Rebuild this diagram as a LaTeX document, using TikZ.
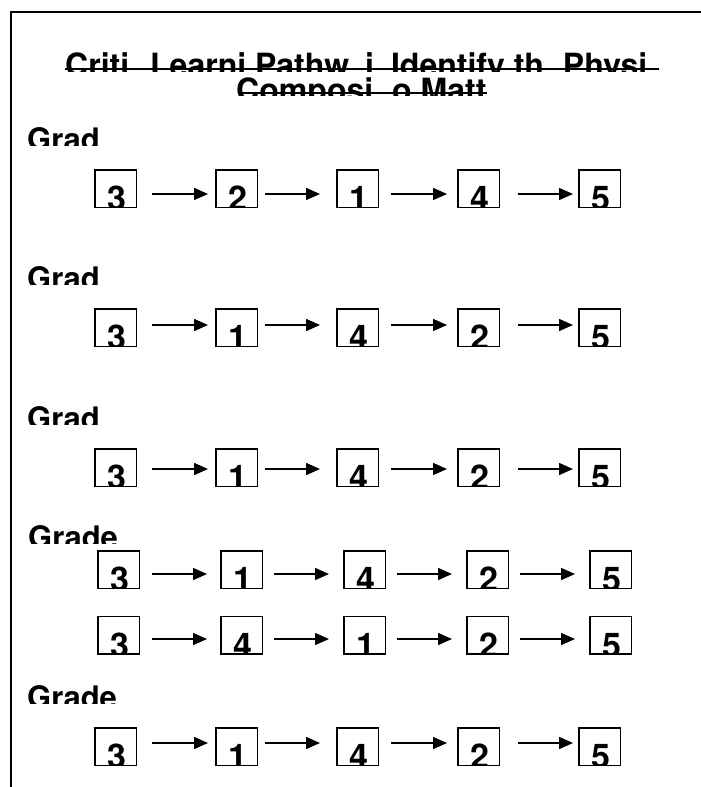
\documentclass[tikz,border=0pt]{standalone}
\usepackage{fontspec}
\setmainfont{TeX Gyre Heros}
\usepackage{tikz}
\usetikzlibrary{arrows.meta,positioning}
\tikzset{
  cell/.style={rectangle, draw, line width=1.5pt, minimum width=41.5pt,
               minimum height=37.5pt, inner sep=0pt,
               path picture={\node[draw=none, anchor=base, inner sep=0pt,
                 font=\bfseries\fontsize{34}{34}\selectfont]
                 at ([xshift=1.5pt,yshift=-3.5pt]path picture bounding box.south) {#1};}},
  fl/.style={-{Triangle[length=14pt,width=12pt]}, line width=1.5pt},
  grade/.style={anchor=base west, inner sep=0pt, font=\bfseries\fontsize{31}{31}\selectfont},
  ttl/.style={anchor=base west, inner sep=0pt, text depth=0pt,
              font=\bfseries\fontsize{32}{32}\selectfont},
  uline/.style={line width=2pt},
}
\begin{document}
\begin{tikzpicture}[x=1pt, y=1pt]
\useasboundingbox (0,0) rectangle (701,-787);
\draw[line width=1.5pt] (11,-787) -- (11,-12) -- (701,-12);
% title
\begin{scope}
\clip (0,-30) rectangle (701,-71);
\node[ttl] (ttl1) at (65,-76) {Criti\hspace{21pt}Learni Pathw\hspace{16pt}i\hspace{17pt}Identify th\hspace{19pt}Physi};
\end{scope}
\begin{scope}
\clip (0,-72) rectangle (701,-95.5);
\node[ttl] (ttl2) at (236,-101) {Composi\hspace{19pt}o Matt};
\end{scope}
\draw[uline] (65,-69) -- (659,-69);
\draw[uline] (238,-92.5) -- (487,-92.5);
% grade labels
\begin{scope}
\clip (0,-110) rectangle (701,-145);
\node[grade] (lab1) at (27,-150) {Grad};
\end{scope}
\begin{scope}
\clip (0,-250) rectangle (701,-284);
\node[grade] (lab2) at (27,-289) {Grad};
\end{scope}
\begin{scope}
\clip (0,-390) rectangle (701,-424);
\node[grade] (lab3) at (27,-429) {Grad};
\end{scope}
\begin{scope}
\clip (0,-510) rectangle (701,-543);
\node[grade] (lab4) at (28,-548) {Grade};
\end{scope}
\begin{scope}
\clip (0,-670) rectangle (701,-703);
\node[grade] (lab5) at (27,-708) {Grade};
\end{scope}
% row 1
\node[cell=3] (g1a) at (115.5,-188.5) {};
\node[cell=2, right=78pt of g1a] (g1b) {};
\node[cell=1, right=78pt of g1b] (g1c) {};
\node[cell=4, right=78pt of g1c] (g1d) {};
\node[cell=5, right=78pt of g1d] (g1e) {};
\draw[fl] ([shift={(15,-5.5)}]g1a.east) -- ([shift={(-7,-5.5)}]g1b.west);
\draw[fl] ([shift={(7,-5.5)}]g1b.east) -- ([shift={(-16,-5.5)}]g1c.west);
\draw[fl] ([shift={(12,-5.5)}]g1c.east) -- ([shift={(-10,-5.5)}]g1d.west);
\draw[fl] ([shift={(18,-5.5)}]g1d.east) -- ([shift={(-5,-5.5)}]g1e.west);
% row 2
\node[cell=3] (g2a) at (115.5,-327.5) {};
\node[cell=1, right=78pt of g2a] (g2b) {};
\node[cell=4, right=78pt of g2b] (g2c) {};
\node[cell=2, right=78pt of g2c] (g2d) {};
\node[cell=5, right=78pt of g2d] (g2e) {};
\draw[fl] ([shift={(15,2.5)}]g2a.east) -- ([shift={(-7,2.5)}]g2b.west);
\draw[fl] ([shift={(7,2.5)}]g2b.east) -- ([shift={(-16,2.5)}]g2c.west);
\draw[fl] ([shift={(12,2.5)}]g2c.east) -- ([shift={(-10,2.5)}]g2d.west);
\draw[fl] ([shift={(18,2.5)}]g2d.east) -- ([shift={(-5,2.5)}]g2e.west);
% row 3
\node[cell=3] (g3a) at (115.5,-467.5) {};
\node[cell=1, right=78pt of g3a] (g3b) {};
\node[cell=4, right=78pt of g3b] (g3c) {};
\node[cell=2, right=78pt of g3c] (g3d) {};
\node[cell=5, right=78pt of g3d] (g3e) {};
\draw[fl] ([shift={(15,-1.5)}]g3a.east) -- ([shift={(-7,-1.5)}]g3b.west);
\draw[fl] ([shift={(7,-1.5)}]g3b.east) -- ([shift={(-16,-1.5)}]g3c.west);
\draw[fl] ([shift={(12,-1.5)}]g3c.east) -- ([shift={(-10,-1.5)}]g3d.west);
\draw[fl] ([shift={(18,-1.5)}]g3d.east) -- ([shift={(-5,-1.5)}]g3e.west);
% row 4, two pathways
\node[cell=3] (g4a) at (118.5,-569.5) {};
\node[cell=1, right=80pt of g4a] (g4b) {};
\node[cell=4, right=80pt of g4b] (g4c) {};
\node[cell=2, right=80pt of g4c] (g4d) {};
\node[cell=5, right=80pt of g4d] (g4e) {};
\draw[fl] ([shift={(12,-4.5)}]g4a.east) -- ([shift={(-13,-4.5)}]g4b.west);
\draw[fl] ([shift={(11,-4.5)}]g4b.east) -- ([shift={(-14,-4.5)}]g4c.west);
\draw[fl] ([shift={(11,-4.5)}]g4c.east) -- ([shift={(-14,-4.5)}]g4d.west);
\draw[fl] ([shift={(11,-4.5)}]g4d.east) -- ([shift={(-14,-4.5)}]g4e.west);
\node[cell=3] (h4a) at (118.5,-635) {};
\node[cell=4, right=80pt of h4a] (h4b) {};
\node[cell=1, right=80pt of h4b] (h4c) {};
\node[cell=2, right=80pt of h4c] (h4d) {};
\node[cell=5, right=80pt of h4d] (h4e) {};
\draw[fl] ([shift={(12,-4)}]h4a.east) -- ([shift={(-13,-4)}]h4b.west);
\draw[fl] ([shift={(11,-4)}]h4b.east) -- ([shift={(-14,-4)}]h4c.west);
\draw[fl] ([shift={(11,-4)}]h4c.east) -- ([shift={(-14,-4)}]h4d.west);
\draw[fl] ([shift={(11,-4)}]h4d.east) -- ([shift={(-14,-4)}]h4e.west);
% row 5
\node[cell=3] (g5a) at (115.5,-746.5) {};
\node[cell=1, right=78pt of g5a] (g5b) {};
\node[cell=4, right=78pt of g5b] (g5c) {};
\node[cell=2, right=78pt of g5c] (g5d) {};
\node[cell=5, right=78pt of g5d] (g5e) {};
\draw[fl] ([shift={(15,3.5)}]g5a.east) -- ([shift={(-7,3.5)}]g5b.west);
\draw[fl] ([shift={(7,3.5)}]g5b.east) -- ([shift={(-16,3.5)}]g5c.west);
\draw[fl] ([shift={(12,3.5)}]g5c.east) -- ([shift={(-10,3.5)}]g5d.west);
\draw[fl] ([shift={(18,3.5)}]g5d.east) -- ([shift={(-5,3.5)}]g5e.west);
\end{tikzpicture}
\end{document}
